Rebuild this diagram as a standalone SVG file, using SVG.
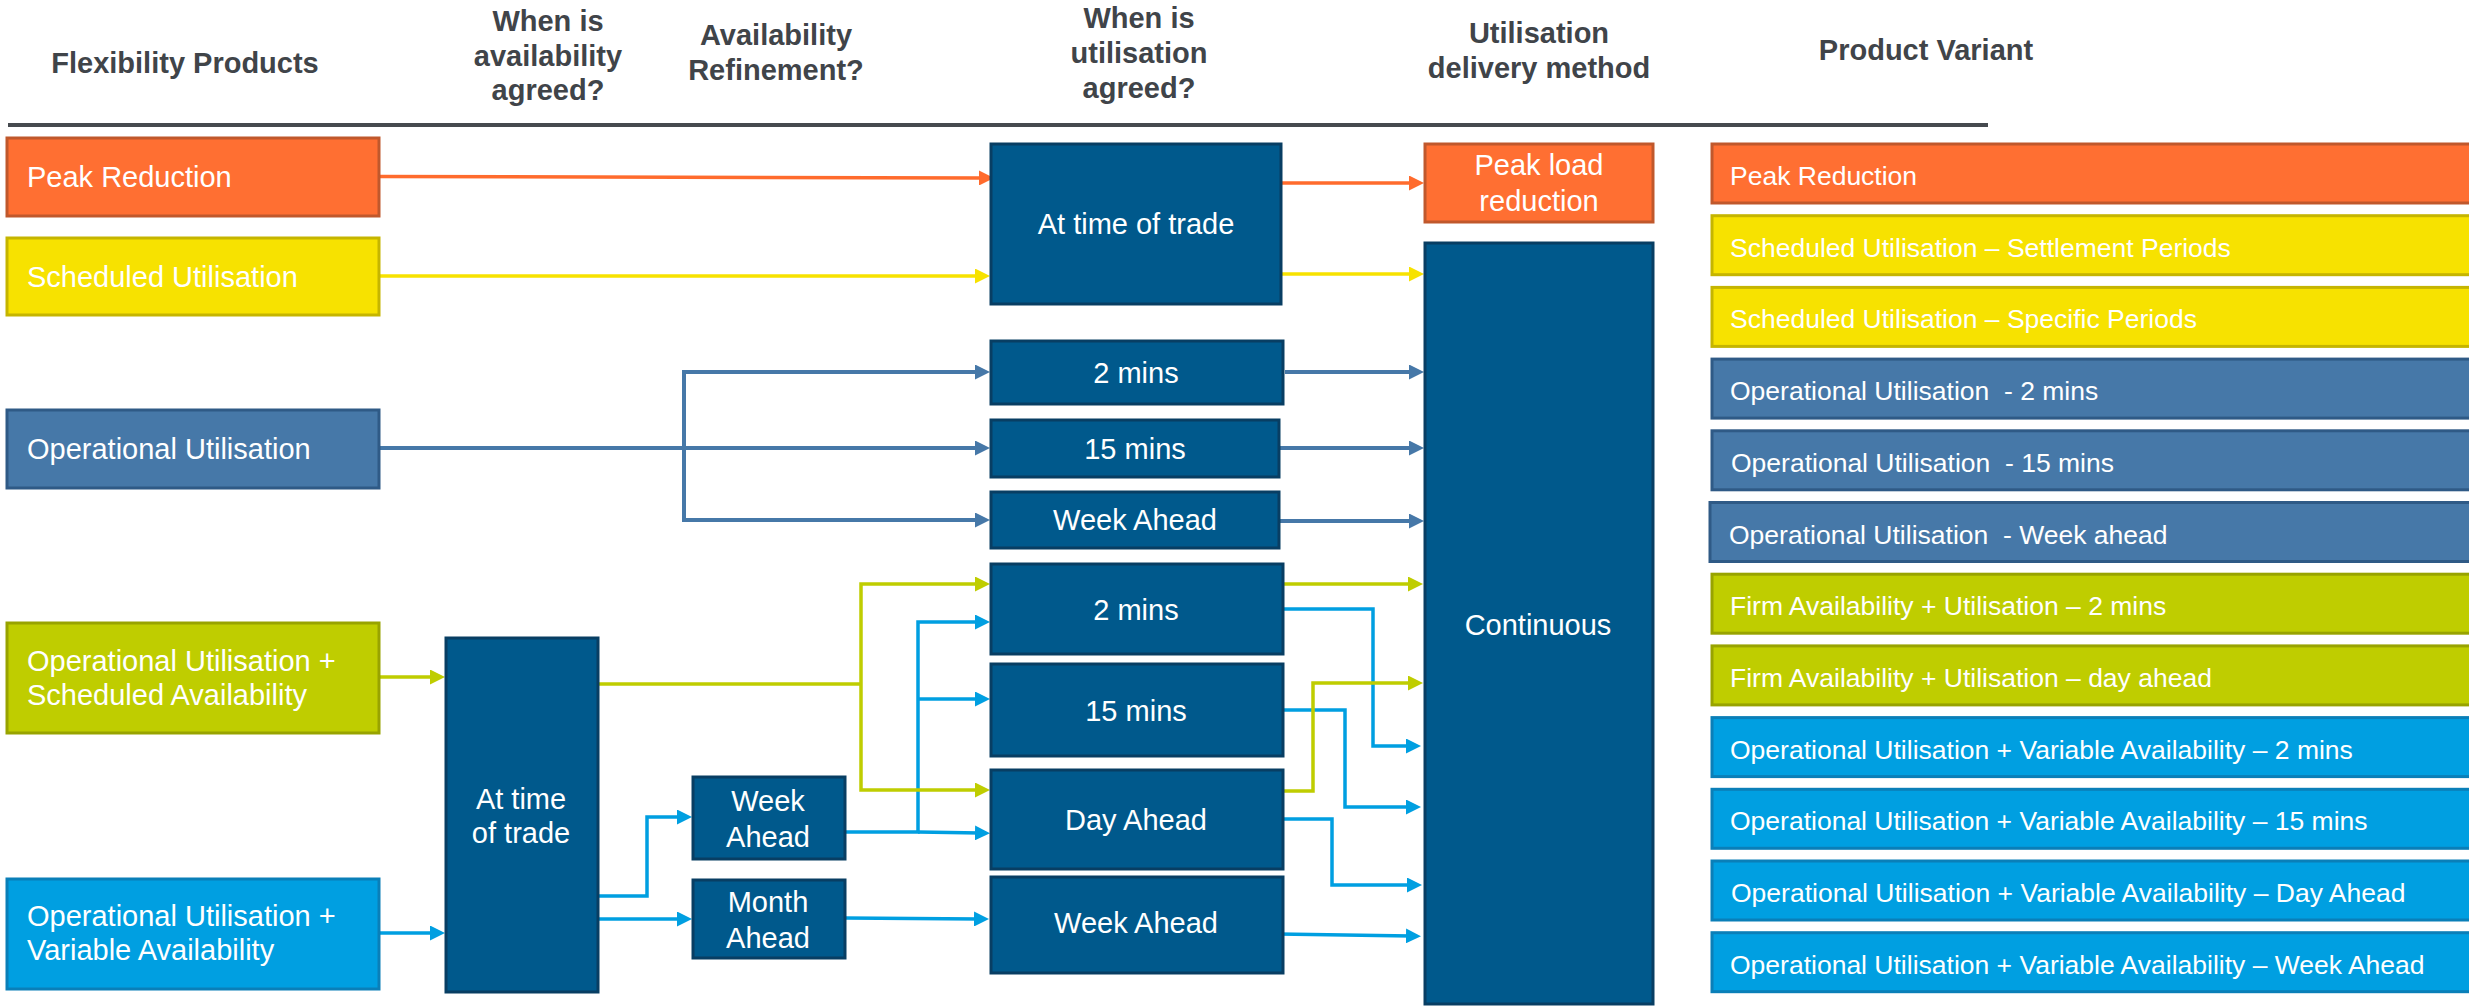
<svg xmlns="http://www.w3.org/2000/svg" width="2469" height="1007" viewBox="0 0 2469 1007">
<style>
.hd{font-family:"Liberation Sans",Arial,sans-serif;font-weight:bold;font-size:29px;fill:#404449;text-anchor:middle}
.t{font-family:"Liberation Sans",Arial,sans-serif;font-size:29px;fill:#fff}
.c{text-anchor:middle}
.v{font-family:"Liberation Sans",Arial,sans-serif;font-size:26.5px;fill:#fff;white-space:pre}
.or{fill:#FF6F32;stroke:#C0582C;stroke-width:3}
.ye{fill:#F7E200;stroke:#C5B500;stroke-width:3}
.st{fill:#4678A8;stroke:#2F5A86;stroke-width:3}
.gr{fill:#BFCD00;stroke:#98A300;stroke-width:3}
.bl{fill:#009FE1;stroke:#0A7FB8;stroke-width:3}
.nv{fill:#00598C;stroke:#083E63;stroke-width:3}
.ln{fill:none;stroke-width:3.5;stroke-linejoin:miter}
.lo{stroke:#FF6B2D;marker-end:url(#ao)}
.ly{stroke:#F7E200;marker-end:url(#ay)}
.ls{stroke:#4678A8;stroke-width:4;marker-end:url(#as)}
.lg{stroke:#BFCD00;marker-end:url(#ag)}
.lb{stroke:#009FE1;marker-end:url(#ab)}
.nm{marker-end:none}
</style>
<defs>
<marker id="ao" markerUnits="userSpaceOnUse" markerWidth="15" markerHeight="15" refX="5" refY="7.5" orient="auto"><path d="M0,0L15,7.5L0,15z" fill="#FF6B2D"/></marker>
<marker id="ay" markerUnits="userSpaceOnUse" markerWidth="15" markerHeight="15" refX="5" refY="7.5" orient="auto"><path d="M0,0L15,7.5L0,15z" fill="#F7E200"/></marker>
<marker id="as" markerUnits="userSpaceOnUse" markerWidth="15" markerHeight="15" refX="5" refY="7.5" orient="auto"><path d="M0,0L15,7.5L0,15z" fill="#4678A8"/></marker>
<marker id="ag" markerUnits="userSpaceOnUse" markerWidth="15" markerHeight="15" refX="5" refY="7.5" orient="auto"><path d="M0,0L15,7.5L0,15z" fill="#BFCD00"/></marker>
<marker id="ab" markerUnits="userSpaceOnUse" markerWidth="15" markerHeight="15" refX="5" refY="7.5" orient="auto"><path d="M0,0L15,7.5L0,15z" fill="#009FE1"/></marker>
</defs>
<rect width="2469" height="1007" fill="#fff"/>

<g id="header">
<text class="hd" x="185" y="73">Flexibility Products</text>
<text class="hd" x="548" y="31">When is</text>
<text class="hd" x="548" y="66">availability</text>
<text class="hd" x="548" y="100">agreed?</text>
<text class="hd" x="776" y="45">Availability</text>
<text class="hd" x="776" y="80">Refinement?</text>
<text class="hd" x="1139" y="28">When is</text>
<text class="hd" x="1139" y="63">utilisation</text>
<text class="hd" x="1139" y="98">agreed?</text>
<text class="hd" x="1539" y="43">Utilisation</text>
<text class="hd" x="1539" y="78">delivery method</text>
<text class="hd" x="1926" y="60">Product Variant</text>
<rect x="8" y="123" width="1980" height="4" fill="#464A4F"/>
</g>

<g id="connectors">
<path class="ln lo" d="M379,176.5L984,178"/>
<path class="ln lo" d="M1281,183L1414,183"/>
<path class="ln ly" d="M379,276L980,276"/>
<path class="ln ly" d="M1281,274L1414,274"/>
<path class="ln ls" d="M379,448L980,448"/>
<path class="ln ls" d="M684,448L684,372L980,372"/>
<path class="ln ls" d="M684,448L684,520L980,520"/>
<path class="ln ls" d="M1285,372L1414,372"/>
<path class="ln ls" d="M1279,448L1414,448"/>
<path class="ln ls" d="M1279,521L1414,521"/>
<path class="ln lb" d="M379,933L435,933"/>
<path class="ln lb" d="M598,896L647,896L647,817L682,817"/>
<path class="ln lb" d="M598,919L682,919"/>
<path class="ln lb" d="M845,832L918,832L918,622L980,622"/>
<path class="ln lb" d="M918,699L980,699"/>
<path class="ln lb" d="M918,832L980,833"/>
<path class="ln lb" d="M845,918L979,919"/>
<path class="ln lb" d="M1283,609L1373,609L1373,746L1411,746"/>
<path class="ln lb" d="M1283,710L1345,710L1345,807L1411,807"/>
<path class="ln lb" d="M1283,819L1332,819L1332,885L1412,885"/>
<path class="ln lb" d="M1278,934L1411,936"/>
<path class="ln lg" d="M379,677L435,677"/>
<path class="ln lg nm" d="M598,684L861,684"/>
<path class="ln lg" d="M861,684L861,584L980,584"/>
<path class="ln lg" d="M861,684L861,790L980,790"/>
<path class="ln lg" d="M1283,584L1413,584"/>
<path class="ln lg" d="M1283,791L1313,791L1313,683L1413,683"/>
</g>

<g id="n-peak"><rect class="or" x="7" y="138" width="372" height="78"/><text class="t" x="27" y="187">Peak Reduction</text></g>
<g id="n-sched"><rect class="ye" x="7" y="238" width="372" height="77"/><text class="t" x="27" y="287">Scheduled Utilisation</text></g>
<g id="n-opu"><rect class="st" x="7" y="410" width="372" height="78"/><text class="t" x="27" y="459">Operational Utilisation</text></g>
<g id="n-opsa"><rect class="gr" x="7" y="623" width="372" height="110"/><text class="t" x="27" y="671">Operational Utilisation +</text><text class="t" x="27" y="705">Scheduled Availability</text></g>
<g id="n-opva"><rect class="bl" x="7" y="879" width="372" height="110"/><text class="t" x="27" y="926">Operational Utilisation +</text><text class="t" x="27" y="960">Variable Availability</text></g>

<g id="n-tot2"><rect class="nv" x="446" y="638" width="152" height="354"/><text class="t c" x="521" y="809">At time</text><text class="t c" x="521" y="843">of trade</text></g>
<g id="n-wa1"><rect class="nv" x="693" y="777" width="152" height="82"/><text class="t c" x="768" y="811">Week</text><text class="t c" x="768" y="847">Ahead</text></g>
<g id="n-ma"><rect class="nv" x="693" y="880" width="152" height="78"/><text class="t c" x="768" y="912">Month</text><text class="t c" x="768" y="948">Ahead</text></g>

<g id="n-tot1"><rect class="nv" x="991" y="144" width="290" height="160"/><text class="t c" x="1136" y="234">At time of trade</text></g>
<g id="n-2m1"><rect class="nv" x="991" y="341" width="292" height="63"/><text class="t c" x="1136" y="383">2 mins</text></g>
<g id="n-15m1"><rect class="nv" x="991" y="420" width="288" height="57"/><text class="t c" x="1135" y="459">15 mins</text></g>
<g id="n-wa2"><rect class="nv" x="991" y="492" width="288" height="56"/><text class="t c" x="1135" y="530">Week Ahead</text></g>
<g id="n-2m2"><rect class="nv" x="991" y="564" width="292" height="90"/><text class="t c" x="1136" y="620">2 mins</text></g>
<g id="n-15m2"><rect class="nv" x="991" y="664" width="292" height="92"/><text class="t c" x="1136" y="721">15 mins</text></g>
<g id="n-da"><rect class="nv" x="991" y="770" width="292" height="99"/><text class="t c" x="1136" y="830">Day Ahead</text></g>
<g id="n-wa3"><rect class="nv" x="991" y="877" width="292" height="96"/><text class="t c" x="1136" y="933">Week Ahead</text></g>

<g id="n-plr"><rect class="or" x="1425" y="144" width="228" height="78"/><text class="t c" x="1539" y="175">Peak load</text><text class="t c" x="1539" y="211">reduction</text></g>
<g id="n-cont"><rect class="nv" x="1425" y="243" width="228" height="761"/><text class="t c" x="1538" y="635">Continuous</text></g>

<g id="v0"><rect class="or" x="1712" y="144" width="770" height="59"/><text class="v" x="1730" y="185">Peak Reduction</text></g>
<g id="v1"><rect class="ye" x="1712" y="215.7" width="770" height="59"/><text class="v" x="1730" y="256.7">Scheduled Utilisation – Settlement Periods</text></g>
<g id="v2"><rect class="ye" x="1712" y="287.4" width="770" height="59"/><text class="v" x="1730" y="328.4">Scheduled Utilisation – Specific Periods</text></g>
<g id="v3"><rect class="st" x="1712" y="359.1" width="770" height="59"/><text class="v" x="1730" y="400.1">Operational Utilisation  - 2 mins</text></g>
<g id="v4"><rect class="st" x="1712" y="430.8" width="770" height="59"/><text class="v" x="1731" y="471.8">Operational Utilisation  - 15 mins</text></g>
<g id="v5"><rect class="st" x="1710" y="502.5" width="772" height="59"/><text class="v" x="1729" y="543.5">Operational Utilisation  - Week ahead</text></g>
<g id="v6"><rect class="gr" x="1712" y="574.2" width="770" height="59"/><text class="v" x="1730" y="615.2">Firm Availability + Utilisation – 2 mins</text></g>
<g id="v7"><rect class="gr" x="1712" y="645.9" width="770" height="59"/><text class="v" x="1730" y="686.9">Firm Availability + Utilisation – day ahead</text></g>
<g id="v8"><rect class="bl" x="1712" y="717.6" width="770" height="59"/><text class="v" x="1730" y="758.6">Operational Utilisation + Variable Availability – 2 mins</text></g>
<g id="v9"><rect class="bl" x="1712" y="789.3" width="770" height="59"/><text class="v" x="1730" y="830.3">Operational Utilisation + Variable Availability – 15 mins</text></g>
<g id="v10"><rect class="bl" x="1712" y="861" width="770" height="59"/><text class="v" x="1731" y="902">Operational Utilisation + Variable Availability – Day Ahead</text></g>
<g id="v11"><rect class="bl" x="1712" y="932.7" width="770" height="59"/><text class="v" x="1730" y="973.7">Operational Utilisation + Variable Availability – Week Ahead</text></g>
</svg>
